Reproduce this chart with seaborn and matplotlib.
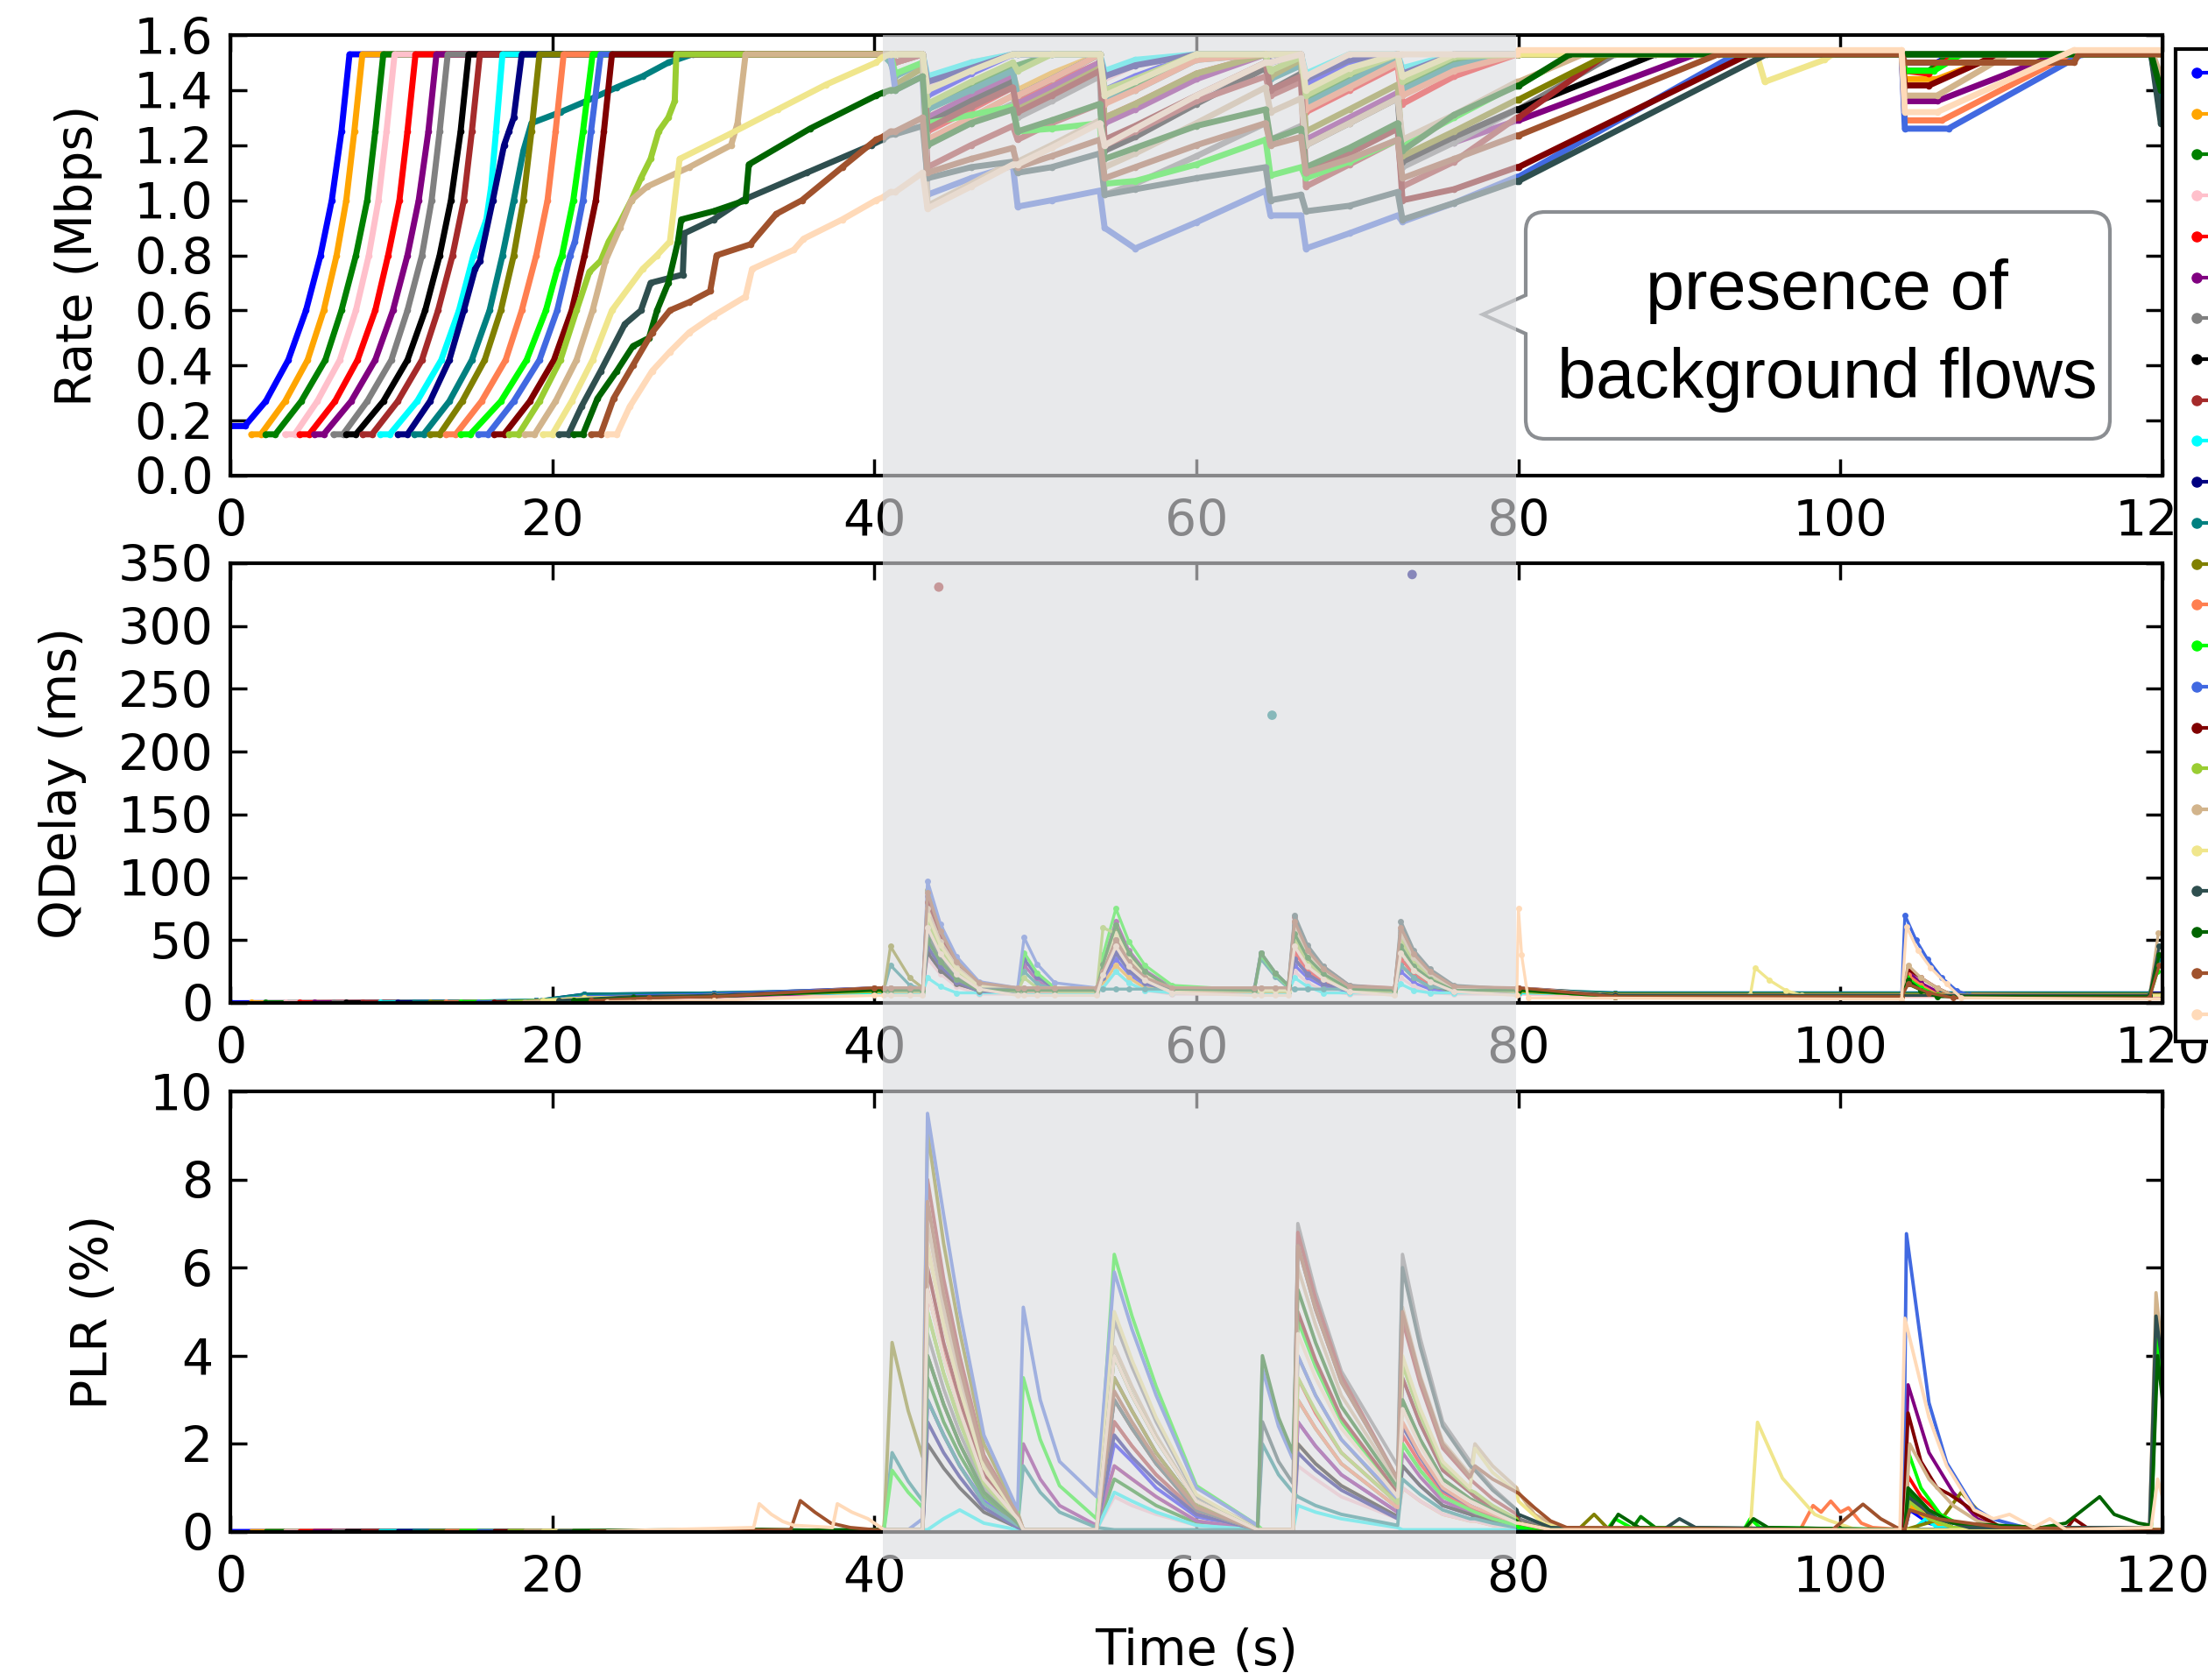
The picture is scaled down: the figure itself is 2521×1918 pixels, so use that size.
import matplotlib
matplotlib.use("Agg")
import matplotlib.pyplot as plt
import matplotlib.transforms as mtransforms
import pandas as pd
import seaborn as sns
from matplotlib.lines import Line2D
from matplotlib.patches import Rectangle, PathPatch
from matplotlib.path import Path
from matplotlib.ticker import FormatStrFormatter, MultipleLocator

# ---------------------------------------------------------------- flows
FLOW_NAMES = ["flow %d" % (i + 1) for i in range(24)]
FLOW_COLORS = ["blue", "orange", "green", "pink", "red", "purple", "gray",
               "black", "brown", "cyan", "navy", "teal", "olive", "coral",
               "lime", "royalblue", "maroon", "yellowgreen", "tan", "khaki",
               "darkslategray", "darkgreen", "sienna", "peachpuff"]

# period during which background traffic shares the bottleneck (s)
BG_START, BG_END = 40.5, 79.85

# ---------------------------------------------------------------- rate (Mbps)
RATE_HEAD = [
    [(0, 0.18), (0.9, 0.18), (2.2, 0.27), (3.6, 0.42), (4.7, 0.6), (5.6, 0.8), (6.3, 1.0), (6.9, 1.25), (7.4, 1.53), (40.5, 1.53)],
    [(1.3, 0.15), (1.9, 0.15), (3.4, 0.27), (4.8, 0.42), (5.8, 0.6), (6.6, 0.8), (7.2, 1.0), (7.7, 1.25), (8.2, 1.53), (40.5, 1.53)],
    [(2.2, 0.15), (2.8, 0.15), (4.4, 0.27), (5.9, 0.42), (6.9, 0.6), (7.8, 0.8), (8.5, 1.0), (9.0, 1.25), (9.5, 1.53), (40.5, 1.53)],
    [(3.4, 0.15), (4.0, 0.15), (5.4, 0.27), (6.8, 0.42), (7.8, 0.6), (8.6, 0.8), (9.2, 1.0), (9.7, 1.25), (10.2, 1.53), (40.5, 1.53)],
    [(4.3, 0.15), (4.9, 0.15), (6.5, 0.27), (7.9, 0.42), (9.0, 0.6), (9.8, 0.8), (10.5, 1.0), (11.0, 1.25), (11.5, 1.53), (40.5, 1.53)],
    [(5.2, 0.15), (5.8, 0.15), (7.5, 0.27), (9.0, 0.42), (10.1, 0.6), (11.0, 0.8), (11.7, 1.0), (12.3, 1.25), (12.8, 1.53), (40.5, 1.53)],
    [(6.4, 0.15), (7.0, 0.15), (8.5, 0.27), (10.0, 0.42), (11.0, 0.6), (11.9, 0.8), (12.5, 1.0), (13.0, 1.25), (13.5, 1.53), (40.5, 1.53)],
    [(7.2, 0.15), (7.8, 0.15), (9.5, 0.27), (11.0, 0.42), (12.1, 0.6), (13.0, 0.8), (13.7, 1.0), (14.3, 1.25), (14.8, 1.53), (40.5, 1.53)],
    [(8.2, 0.15), (8.8, 0.15), (10.4, 0.27), (11.9, 0.42), (12.9, 0.6), (13.8, 0.8), (14.5, 1.0), (15.0, 1.25), (15.5, 1.53), (40.5, 1.53)],
    [(9.3, 0.15), (9.9, 0.15), (11.6, 0.27), (13.1, 0.42), (14.2, 0.6), (15.1, 0.8), (15.6, 0.88), (15.9, 0.93), (16.2, 1.05), (16.5, 1.25), (16.9, 1.53), (40.5, 1.53)],
    [(10.4, 0.15), (11.0, 0.15), (12.4, 0.27), (13.6, 0.42), (14.5, 0.6), (15.2, 0.75), (15.5, 0.78), (16.3, 1.0), (17.0, 1.2), (17.3, 1.25), (17.6, 1.3), (18.1, 1.53), (40.5, 1.53)],
    [(11.4, 0.15), (12.0, 0.15), (13.6, 0.27), (15.0, 0.42), (16.1, 0.6), (16.9, 0.8), (17.6, 1.0), (18.2, 1.18), (18.7, 1.28), (20.5, 1.32), (22.1, 1.36), (24.0, 1.41), (25.6, 1.45), (27.2, 1.5), (28.7, 1.53), (40.5, 1.53)],
    [(12.4, 0.15), (13.0, 0.15), (14.4, 0.27), (15.8, 0.42), (16.8, 0.6), (17.6, 0.8), (18.2, 1.0), (18.7, 1.25), (19.2, 1.53), (40.5, 1.53)],
    [(13.4, 0.15), (14.0, 0.15), (15.6, 0.27), (17.1, 0.42), (18.1, 0.6), (19.0, 0.8), (19.7, 1.0), (20.2, 1.25), (20.7, 1.53), (40.5, 1.53)],
    [(14.3, 0.15), (14.9, 0.15), (16.8, 0.27), (18.4, 0.42), (19.6, 0.6), (20.3, 0.75), (20.6, 0.8), (21.3, 1.0), (21.9, 1.25), (22.5, 1.53), (40.5, 1.53)],
    [(15.4, 0.15), (16.0, 0.15), (17.6, 0.27), (19.2, 0.42), (20.3, 0.6), (21.1, 0.8), (21.4, 0.85), (21.9, 1.0), (22.4, 1.25), (23.0, 1.53), (40.5, 1.53)],
    [(16.4, 0.15), (17.0, 0.15), (18.6, 0.27), (20.1, 0.42), (21.2, 0.6), (22.0, 0.8), (22.7, 1.0), (23.2, 1.25), (23.7, 1.53), (40.5, 1.53)],
    [(17.3, 0.15), (17.9, 0.15), (19.2, 0.27), (20.5, 0.42), (21.5, 0.6), (22.3, 0.74), (23.0, 0.78), (23.5, 0.85), (24.2, 0.92), (24.9, 1.0), (25.5, 1.08), (26.1, 1.15), (26.6, 1.25), (27.2, 1.3), (27.6, 1.36), (27.7, 1.53), (40.5, 1.53)],
    [(18.3, 0.15), (18.9, 0.15), (20.2, 0.27), (21.5, 0.42), (22.5, 0.6), (23.3, 0.78), (24.2, 0.9), (24.9, 1.0), (25.9, 1.05), (28.5, 1.12), (31.1, 1.2), (31.5, 1.28), (32.0, 1.53), (40.5, 1.53)],
    [(19.4, 0.15), (20.0, 0.15), (21.2, 0.27), (22.5, 0.42), (23.7, 0.6), (25.6, 0.75), (26.5, 0.8), (27.3, 0.85), (27.9, 1.15), (31.0, 1.24), (34.0, 1.33), (37.0, 1.42), (40.1, 1.5), (40.5, 1.52)],
    [(20.4, 0.15), (21.0, 0.15), (21.8, 0.25), (23.0, 0.38), (24.5, 0.55), (25.5, 0.6), (26.1, 0.7), (28.1, 0.73), (28.2, 0.88), (30.0, 0.93), (31.8, 1.0), (35.8, 1.1), (39.8, 1.2), (40.5, 1.22)],
    [(21.3, 0.15), (21.9, 0.15), (22.8, 0.28), (24.0, 0.38), (25.0, 0.47), (26.0, 0.5), (26.5, 0.6), (27.2, 0.7), (27.8, 0.85), (28.0, 0.93), (30.0, 0.96), (32.0, 1.0), (32.2, 1.13), (36.0, 1.26), (40.1, 1.38), (40.5, 1.39)],
    [(22.4, 0.15), (23.0, 0.15), (23.8, 0.28), (25.0, 0.4), (26.2, 0.52), (27.3, 0.6), (28.5, 0.63), (29.8, 0.67), (30.2, 0.8), (32.3, 0.84), (33.9, 0.95), (35.5, 1.0), (38.0, 1.12), (40.1, 1.22), (40.5, 1.23)],
    [(23.4, 0.15), (24.0, 0.15), (24.8, 0.25), (26.2, 0.38), (27.3, 0.45), (28.5, 0.52), (30.0, 0.58), (32.0, 0.65), (32.4, 0.75), (35.0, 0.82), (35.6, 0.86), (38.0, 0.93), (40.1, 1.0), (40.5, 1.01)],
]

RATE_BAND_T = [41.0, 41.3, 43.0, 43.3, 46.0, 48.6, 48.9, 51.0, 54.0, 54.3, 56.2,
               60.0, 64.3, 64.6, 66.5, 66.8, 69.5, 72.5, 72.8, 76.0, 79.9]
RATE_BAND = [
    [1.53, 1.53, 1.53, 1.38, 1.46, 1.53, 1.53, 1.53, 1.53, 1.40, 1.45, 1.53, 1.53, 1.53, 1.53, 1.42, 1.50, 1.53, 1.44, 1.53, 1.53],
    [1.53, 1.50, 1.53, 1.30, 1.38, 1.46, 1.40, 1.46, 1.53, 1.36, 1.41, 1.52, 1.53, 1.45, 1.50, 1.38, 1.46, 1.53, 1.40, 1.49, 1.53],
    [1.53, 1.53, 1.53, 1.33, 1.41, 1.49, 1.49, 1.53, 1.53, 1.37, 1.42, 1.53, 1.53, 1.53, 1.53, 1.36, 1.44, 1.53, 1.42, 1.51, 1.53],
    [1.53, 1.53, 1.53, 1.42, 1.50, 1.53, 1.53, 1.53, 1.53, 1.44, 1.49, 1.53, 1.53, 1.53, 1.53, 1.45, 1.53, 1.53, 1.47, 1.53, 1.53],
    [1.53, 1.50, 1.53, 1.25, 1.33, 1.41, 1.36, 1.42, 1.50, 1.30, 1.35, 1.46, 1.53, 1.46, 1.52, 1.32, 1.40, 1.49, 1.35, 1.45, 1.53],
    [1.53, 1.53, 1.53, 1.30, 1.38, 1.45, 1.35, 1.41, 1.50, 1.28, 1.33, 1.44, 1.53, 1.45, 1.50, 1.22, 1.30, 1.39, 1.15, 1.21, 1.29],
    [1.53, 1.50, 1.53, 1.20, 1.28, 1.35, 1.30, 1.36, 1.45, 1.02, 1.06, 1.16, 1.28, 1.22, 1.27, 1.10, 1.18, 1.26, 1.12, 1.21, 1.33],
    [1.53, 1.53, 1.53, 1.28, 1.36, 1.43, 1.38, 1.44, 1.53, 1.18, 1.23, 1.35, 1.48, 1.40, 1.46, 1.20, 1.28, 1.37, 1.14, 1.23, 1.33],
    [1.53, 1.50, 1.53, 1.12, 1.20, 1.27, 1.22, 1.28, 1.35, 1.20, 1.25, 1.36, 1.45, 1.38, 1.43, 1.05, 1.13, 1.22, 1.05, 1.14, 1.30],
    [1.53, 1.53, 1.53, 1.45, 1.50, 1.53, 1.53, 1.53, 1.53, 1.47, 1.51, 1.53, 1.53, 1.53, 1.53, 1.46, 1.53, 1.53, 1.48, 1.53, 1.53],
    [1.53, 1.53, 1.53, 1.43, 1.48, 1.53, 1.53, 1.53, 1.53, 1.45, 1.49, 1.53, 1.53, 1.50, 1.53, 1.44, 1.51, 1.53, 1.46, 1.53, 1.53],
    [1.50, 1.45, 1.50, 1.33, 1.40, 1.47, 1.38, 1.44, 1.53, 1.36, 1.40, 1.51, 1.53, 1.44, 1.49, 1.35, 1.43, 1.52, 1.40, 1.49, 1.53],
    [1.53, 1.42, 1.48, 1.22, 1.30, 1.38, 1.33, 1.39, 1.48, 1.30, 1.35, 1.46, 1.53, 1.45, 1.51, 1.25, 1.33, 1.42, 1.16, 1.25, 1.365],
    [1.53, 1.53, 1.53, 1.22, 1.30, 1.38, 1.38, 1.44, 1.53, 1.35, 1.40, 1.51, 1.53, 1.53, 1.53, 1.33, 1.41, 1.50, 1.38, 1.47, 1.53],
    [1.53, 1.46, 1.50, 1.28, 1.31, 1.34, 1.25, 1.26, 1.28, 1.06, 1.07, 1.13, 1.22, 1.09, 1.12, 1.08, 1.14, 1.22, 1.20, 1.30, 1.42],
    [1.53, 1.40, 1.45, 1.02, 1.08, 1.126, 0.977, 1.0, 1.035, 0.90, 0.825, 0.92, 1.035, 0.945, 0.945, 0.825, 0.88, 0.945, 0.922, 0.99, 1.085],
    [1.53, 1.53, 1.53, 1.26, 1.34, 1.41, 1.32, 1.38, 1.47, 1.22, 1.27, 1.38, 1.50, 1.40, 1.45, 1.10, 1.17, 1.26, 1.00, 1.04, 1.12],
    [1.53, 1.53, 1.53, 1.35, 1.43, 1.50, 1.47, 1.53, 1.53, 1.40, 1.44, 1.53, 1.53, 1.47, 1.52, 1.38, 1.46, 1.53, 1.43, 1.52, 1.53],
    [1.53, 1.53, 1.53, 0.98, 1.06, 1.14, 1.14, 1.20, 1.29, 1.12, 1.17, 1.28, 1.41, 1.32, 1.37, 1.20, 1.28, 1.37, 1.22, 1.31, 1.43],
    [1.53, 1.53, 1.53, 1.40, 1.47, 1.53, 1.53, 1.53, 1.53, 1.38, 1.43, 1.53, 1.53, 1.53, 1.53, 1.40, 1.48, 1.53, 1.45, 1.53, 1.53],
    [1.24, 1.24, 1.27, 1.08, 1.12, 1.14, 1.10, 1.12, 1.17, 1.02, 1.04, 1.08, 1.12, 1.00, 1.02, 0.96, 0.98, 1.03, 0.93, 0.99, 1.07],
    [1.40, 1.40, 1.45, 1.20, 1.28, 1.33, 1.25, 1.29, 1.35, 1.15, 1.19, 1.27, 1.33, 1.22, 1.26, 1.12, 1.19, 1.28, 1.18, 1.31, 1.415],
    [1.25, 1.25, 1.30, 1.10, 1.15, 1.19, 1.12, 1.16, 1.22, 1.08, 1.12, 1.20, 1.28, 1.20, 1.23, 1.10, 1.15, 1.22, 1.08, 1.15, 1.235],
    [1.03, 1.03, 1.10, 0.97, 1.05, 1.13, 1.13, 1.19, 1.28, 1.20, 1.26, 1.38, 1.50, 1.50, 1.53, 1.45, 1.53, 1.53, 1.53, 1.53, 1.53],
]

RATE_TAIL = [
    [(80, 1.53), (103.8, 1.53), (104.0, 1.50), (106, 1.50), (107, 1.53), (120, 1.53)],
    [(80, 1.53), (103.8, 1.53), (104.0, 1.44), (106, 1.44), (110, 1.53), (120, 1.53)],
    [(80, 1.53), (103.8, 1.53), (104.0, 1.47), (105.5, 1.47), (106.8, 1.53), (120, 1.53)],
    [(80, 1.53), (120, 1.53)],
    [(80, 1.53), (103.8, 1.53), (104.0, 1.47), (105.5, 1.46), (107.2, 1.53), (120, 1.53)],
    [(80, 1.29), (91, 1.53), (103.8, 1.53), (104.0, 1.36), (106.0, 1.36), (113.5, 1.53), (120, 1.53)],
    [(80, 1.33), (86, 1.53), (120, 1.53)],
    [(80, 1.33), (88.5, 1.53), (120, 1.53)],
    [(80, 1.30), (85.5, 1.53), (120, 1.53)],
    [(80, 1.53), (120, 1.53)],
    [(80, 1.53), (119.3, 1.53), (119.9, 1.38)],
    [(80, 1.53), (119.3, 1.53), (119.9, 1.33)],
    [(80, 1.365), (85.6, 1.53), (120, 1.53)],
    [(80, 1.53), (103.8, 1.53), (104.0, 1.29), (106.3, 1.29), (114.3, 1.53), (120, 1.53)],
    [(80, 1.42), (83.5, 1.53), (103.8, 1.53), (104.0, 1.47), (105.8, 1.47), (107.5, 1.53), (120, 1.53)],
    [(80, 1.085), (93.5, 1.53), (103.8, 1.53), (104.0, 1.26), (106.7, 1.26), (115, 1.53), (120, 1.53)],
    [(80, 1.12), (94.3, 1.53), (103.8, 1.53), (104.0, 1.417), (105.5, 1.417), (109.8, 1.53), (120, 1.53)],
    [(80, 1.53), (120, 1.53)],
    [(80, 1.43), (84, 1.53), (103.8, 1.53), (104.0, 1.38), (106.0, 1.38), (110.4, 1.53), (119.4, 1.53), (119.9, 1.45)],
    [(80, 1.53), (94.8, 1.53), (95.3, 1.43), (99.0, 1.51), (99.5, 1.53), (120, 1.53)],
    [(80, 1.07), (95.4, 1.53), (119.3, 1.53), (119.9, 1.28)],
    [(80, 1.415), (83.2, 1.53), (119.3, 1.53), (119.9, 1.40)],
    [(80, 1.235), (92.4, 1.53), (103.8, 1.53), (104.0, 1.50), (114.5, 1.50), (114.8, 1.53), (120, 1.53)],
    [(80, 1.545), (103.8, 1.545), (104.0, 1.32), (106.0, 1.32), (114.5, 1.545), (120, 1.545)],
]

# ---------------------------------------------------------------- queuing delay (ms)
QDELAY_HEAD = [
    [(0, 1), (19, 1.5), (22, 4), (30, 6), (40, 9)],
    [(1.3, 1), (19, 1.5), (22, 4), (30, 6), (40, 10)],
    [(2.2, 1), (19, 1), (22, 3), (30, 5), (40, 8)],
    [(3.4, 1), (19, 1), (22, 3), (30, 4), (40, 7)],
    [(4.3, 1), (19, 1.5), (22, 4), (30, 6), (40, 10)],
    [(5.2, 1), (19, 1.5), (22, 4), (30, 5), (40, 9)],
    [(6.4, 1), (19, 1.5), (22, 5), (30, 6), (40, 11)],
    [(7.2, 1), (19, 1.5), (22, 4), (30, 6), (40, 10)],
    [(8.2, 1), (19, 1.5), (22, 5), (30, 7), (40, 12)],
    [(9.3, 1), (19, 2), (22, 6), (30, 7), (40, 8)],
    [(10.4, 1), (19, 2), (22, 7), (30, 8), (40, 9)],
    [(11.4, 1), (19, 2), (22, 7), (30, 8), (40, 11)],
    [(12.4, 1), (19, 1.5), (22, 5), (30, 6), (40, 10)],
    [(13.4, 1), (19, 1.5), (22, 4), (30, 6), (40, 9)],
    [(14.3, 1), (19, 2), (22, 5), (30, 6), (40, 10)],
    [(15.4, 1), (19, 2), (22, 5), (30, 7), (40, 12)],
    [(16.4, 1), (19, 1.5), (22, 4), (30, 6), (40, 11)],
    [(17.3, 1), (22, 4), (30, 6), (40, 9)],
    [(18.3, 1), (22, 4), (30, 5), (40, 12)],
    [(19.4, 2), (22, 4), (30, 6), (40, 10)],
    [(20.4, 2), (25, 5), (30, 6), (40, 11)],
    [(21.3, 2), (25, 4), (30, 5), (40, 10)],
    [(22.4, 2), (26, 4), (30, 5), (40, 12)],
    [(23.4, 1), (30, 2), (40, 6)],
]

QDELAY_BAND_T = [40.6, 41.0, 42.2, 43.0, 43.3, 44.1, 45.1, 46.5, 48.9, 49.3, 50.1,
                 51.2, 53.8, 54.2, 55.0, 55.8, 56.8, 58.5, 63.6, 64.0, 64.9, 65.7,
                 66.1, 66.9, 67.9, 69.5, 72.3, 72.7, 73.5, 74.5, 76.0, 79.9]
QDELAY_BAND = [
    [9, 9, 9, 9, 40, 26, 15, 9, 9, 9, 9, 9, 9, 18, 35, 23, 14, 9, 9, 9, 9, 9, 30, 20, 13, 9, 9, 25, 16, 11, 9, 9],
    [10, 10, 10, 10, 50, 33, 19, 10, 10, 10, 10, 10, 10, 15, 30, 20, 12, 10, 10, 10, 10, 10, 35, 23, 15, 10, 10, 30, 20, 13, 10, 10],
    [8, 8, 8, 8, 45, 29, 17, 8, 8, 8, 8, 8, 8, 20, 40, 26, 16, 8, 8, 8, 8, 8, 45, 29, 19, 9, 8, 35, 23, 15, 8, 8],
    [7, 7, 7, 7, 35, 23, 13, 7, 7, 7, 7, 7, 7, 12, 25, 16, 10, 7, 7, 7, 7, 7, 25, 16, 10, 7, 7, 20, 13, 8, 7, 7],
    [10, 10, 10, 10, 60, 39, 23, 11, 10, 10, 10, 10, 10, 22, 45, 29, 18, 10, 10, 10, 10, 10, 40, 26, 17, 10, 10, 35, 23, 15, 10, 10],
    [9, 9, 9, 9, 55, 36, 21, 10, 9, 30, 18, 9, 9, 32, 65, 42, 26, 12, 9, 9, 9, 9, 45, 29, 19, 9, 9, 40, 26, 17, 9, 9],
    [11, 11, 11, 11, 70, 45, 27, 13, 11, 11, 11, 11, 11, 30, 60, 39, 24, 11, 11, 11, 11, 11, 62, 40, 26, 12, 11, 58, 38, 24, 13, 11],
    [10, 10, 10, 10, 40, 26, 15, 10, 10, 10, 10, 10, 10, 25, 50, 32, 20, 10, 10, 10, 10, 10, 35, 23, 15, 10, 10, 30, 20, 13, 10, 10],
    [12, 12, 12, 12, 85, 55, 32, 15, 12, 12, 12, 12, 12, 22, 45, 29, 18, 12, 12, 12, 12, 12, 68, 44, 29, 14, 12, 55, 36, 23, 12, 12],
    [8, 8, 8, 8, 20, 13, 8, 8, 8, 8, 8, 8, 8, 12, 25, 16, 10, 8, 8, 8, 8, 8, 20, 13, 8, 8, 8, 15, 10, 8, 8, 8],
    [9, 9, 9, 9, 45, 29, 17, 9, 9, 35, 21, 11, 9, 20, 40, 26, 16, 9, 9, 9, 9, 9, 35, 23, 15, 9, 9, 40, 26, 17, 9, 9],
    [11, 30, 14, 11, 50, 33, 19, 11, 11, 25, 15, 11, 11, 11, 11, 11, 11, 11, 11, 35, 21, 12, 11, 11, 11, 11, 11, 30, 20, 13, 11, 11],
    [10, 45, 20, 12, 90, 59, 34, 16, 10, 10, 10, 10, 10, 30, 60, 39, 24, 11, 10, 10, 10, 10, 50, 33, 21, 10, 10, 45, 29, 19, 10, 10],
    [9, 9, 9, 9, 75, 49, 29, 14, 9, 9, 9, 9, 9, 25, 50, 33, 20, 9, 9, 9, 9, 9, 50, 33, 21, 10, 9, 45, 29, 19, 10, 9],
    [10, 10, 10, 10, 60, 39, 23, 11, 10, 40, 24, 12, 10, 38, 75, 49, 30, 14, 10, 38, 23, 13, 60, 39, 25, 12, 10, 40, 26, 17, 10, 10],
    [12, 12, 12, 12, 97, 63, 37, 17, 12, 52, 31, 16, 12, 28, 55, 36, 22, 12, 12, 40, 24, 14, 55, 36, 23, 12, 12, 50, 33, 21, 12, 12],
    [11, 11, 11, 11, 80, 52, 30, 14, 11, 11, 11, 11, 11, 25, 50, 33, 20, 11, 11, 11, 11, 11, 65, 42, 27, 13, 11, 55, 36, 23, 12, 11],
    [9, 9, 9, 9, 65, 42, 25, 12, 9, 20, 12, 9, 9, 60, 55, 36, 22, 11, 9, 9, 9, 9, 50, 33, 21, 10, 9, 50, 33, 21, 11, 9],
    [12, 12, 12, 12, 75, 49, 29, 14, 12, 12, 12, 12, 12, 28, 55, 36, 22, 12, 12, 12, 12, 12, 60, 39, 25, 12, 12, 55, 36, 23, 12, 12],
    [10, 10, 10, 10, 70, 46, 27, 13, 10, 10, 10, 10, 10, 28, 55, 36, 22, 10, 10, 10, 10, 10, 55, 36, 23, 11, 10, 45, 29, 19, 10, 10],
    [11, 11, 11, 11, 55, 36, 21, 11, 11, 11, 11, 11, 11, 25, 50, 33, 20, 11, 11, 40, 24, 14, 70, 46, 29, 14, 11, 65, 42, 27, 14, 11],
    [10, 10, 10, 10, 50, 33, 19, 10, 10, 10, 10, 10, 10, 31, 62, 40, 25, 11, 10, 40, 24, 14, 55, 36, 23, 11, 10, 45, 29, 19, 10, 10],
    [12, 12, 12, 12, 88, 57, 33, 16, 12, 12, 12, 12, 12, 25, 50, 33, 20, 12, 12, 12, 12, 12, 65, 42, 27, 13, 12, 60, 39, 25, 13, 12],
    [6, 6, 6, 6, 60, 39, 23, 11, 6, 6, 6, 6, 6, 22, 45, 29, 18, 8, 6, 6, 6, 6, 45, 29, 19, 9, 6, 40, 26, 17, 9, 6],
]

QDELAY_TAIL = [
    [(80, 9), (86, 6), (120, 6)],
    [(80, 10), (86, 6), (120, 6)],
    [(80, 8), (86, 6), (103.8, 6), (104.2, 15), (105.2, 9), (106, 6), (120, 6)],
    [(80, 7), (86, 5), (120, 5)],
    [(80, 10), (86, 6), (103.8, 6), (104.2, 18), (105, 12), (106, 6), (120, 6)],
    [(80, 9), (86, 7), (103.8, 7), (104.2, 25), (105, 16), (106, 9), (107, 7), (120, 7)],
    [(80, 11), (86, 7), (120, 7)],
    [(80, 10), (86, 7), (120, 7)],
    [(80, 12), (86, 7), (120, 7)],
    [(80, 8), (86, 7), (120, 7)],
    [(80, 9), (86, 8), (120, 8)],
    [(80, 11), (86, 8), (119.2, 8), (119.8, 35)],
    [(80, 10), (86, 7), (120, 7)],
    [(80, 9), (86, 6), (103.8, 6), (104.2, 22), (105, 14), (106, 7), (120, 6)],
    [(80, 10), (86, 5), (103.8, 5), (104.1, 20), (105, 12), (106, 6), (119.2, 5), (119.7, 25)],
    [(80, 12), (86, 6), (103.8, 6), (104.0, 70), (104.7, 50), (105.4, 35), (106.3, 20), (107.2, 10), (108, 6), (120, 6)],
    [(80, 11), (86, 6), (103.8, 6), (104.2, 27), (105, 20), (106, 12), (107, 6), (120, 6)],
    [(80, 9), (86, 6), (120, 6)],
    [(80, 12), (86, 6), (103.8, 6), (104.2, 30), (105, 20), (106, 12), (107, 6), (119.2, 6), (119.75, 56)],
    [(80, 10), (85, 6), (94.4, 6), (94.7, 28), (95.6, 18), (96.6, 10), (97.6, 6), (120, 6)],
    [(80, 11), (86, 6), (119.2, 6), (119.8, 45)],
    [(80, 10), (86, 5), (103.8, 5), (104.2, 18), (105, 10), (106, 5), (119.2, 5), (119.8, 38)],
    [(80, 12), (86, 5), (103.8, 5), (104.2, 15), (105.5, 8), (107, 4), (119.2, 4), (119.8, 30)],
    [(80.0, 75), (80.2, 38), (80.6, 4), (103.8, 3), (104.1, 61), (104.8, 42), (105.6, 28), (106.6, 15), (107.5, 4), (120, 3)],
]

# isolated delay samples: (time, delay, flow index)
QDELAY_STRAY_T = [44.0, 64.7, 73.4]
QDELAY_STRAY_V = [331, 229, 341]
QDELAY_STRAY_FLOW = [8, 11, 10]

# ---------------------------------------------------------------- packet loss ratio (%)
PLR_HEAD = [
    [(0, 0.03), (40, 0.04)],
    [(1.3, 0.03), (40, 0.04)],
    [(2.2, 0.03), (40, 0.04)],
    [(3.4, 0.03), (40, 0.04)],
    [(4.3, 0.03), (40, 0.04)],
    [(5.2, 0.03), (40, 0.04)],
    [(6.4, 0.03), (40, 0.04)],
    [(7.2, 0.03), (40, 0.04)],
    [(8.2, 0.03), (40, 0.04)],
    [(9.3, 0.03), (40, 0.04)],
    [(10.4, 0.03), (40, 0.04)],
    [(11.4, 0.03), (40, 0.04)],
    [(12.4, 0.03), (40, 0.04)],
    [(13.4, 0.03), (40, 0.04)],
    [(14.3, 0.03), (40, 0.04)],
    [(15.4, 0.03), (40, 0.04)],
    [(16.4, 0.03), (40, 0.04)],
    [(17.3, 0.03), (40, 0.04)],
    [(18.3, 0.03), (40, 0.04)],
    [(19.4, 0.03), (40, 0.04)],
    [(20.4, 0.03), (40, 0.04)],
    [(21.3, 0.03), (33.0, 0.06), (36.0, 0.04), (40.0, 0.06)],
    [(22.4, 0.02), (34.8, 0.05), (35.4, 0.71), (36.3, 0.45), (37.3, 0.2), (38.5, 0.1), (40.0, 0.05)],
    [(23.4, 0.02), (32.5, 0.1), (32.85, 0.64), (33.6, 0.4), (34.3, 0.24), (35.0, 0.15), (37.4, 0.1), (37.7, 0.64), (38.6, 0.45), (39.6, 0.3), (40.0, 0.2)],
]

PLR_BAND_T = [40.6, 41.1, 42.1, 43.0, 43.3, 44.3, 45.3, 46.8, 48.9, 49.25, 50.3,
              51.5, 53.8, 54.9, 56.0, 57.5, 60.0, 63.8, 64.1, 65.1, 66.0, 66.3,
              67.4, 69.0, 72.5, 72.8, 73.9, 75.3, 77.0, 77.3, 78.4, 79.9]
PLR_BAND = [
    [.05, .05, .05, .05, 3.0, 2.2, 1.5, 0.7, 0.15, .05, .05, .05, .05, 2.0, 1.6, 1.0, 0.35, .05, .05, .05, .05, 2.5, 1.95, 1.3, 0.45, 1.5, 1.05, 0.6, 0.4, 0.35, 0.25, 0.1],
    [.05, .05, .05, .05, 4.0, 2.9, 2.0, 0.9, 0.2, .05, .05, .05, .05, 1.5, 1.2, 0.8, 0.25, .05, .05, .05, .05, 2.0, 1.55, 1.05, 0.35, 1.0, 0.7, 0.4, 0.25, 0.25, 0.15, 0.1],
    [.05, .05, .05, .05, 3.5, 2.5, 1.75, 0.8, 0.2, .05, .05, .05, .05, 1.2, 0.95, 0.6, 0.2, .05, .05, .05, .05, 3.0, 2.35, 1.55, 0.55, 2.0, 1.4, 0.8, 0.5, 0.45, 0.3, 0.15],
    [.05, .05, .05, .05, 2.5, 1.8, 1.25, 0.55, 0.1, .05, .05, .05, .05, 0.8, 0.6, 0.4, 0.15, .05, .05, .05, .05, 1.5, 1.2, 0.8, 0.3, 1.0, 0.7, 0.4, 0.25, 0.25, 0.15, 0.1],
    [.05, .05, .05, .05, 5.5, 4.0, 2.75, 1.2, 0.3, .05, .05, .05, .05, 2.5, 1.95, 1.3, 0.45, .05, .05, .05, .05, 3.5, 2.7, 1.8, 0.65, 2.2, 1.55, 0.9, 0.55, 0.5, 0.35, 0.2],
    [.05, .05, .05, .05, 3.0, 2.2, 1.5, 0.65, 0.15, 2.0, 1.2, 0.6, 0.15, 1.5, 1.2, 0.8, 0.25, .05, .05, .05, .05, 2.5, 1.95, 1.3, 0.45, 1.8, 1.25, 0.7, 0.45, 0.4, 0.3, 0.15],
    [.05, .05, .05, .05, 4.5, 3.25, 2.25, 1.0, 0.25, .05, .05, .05, .05, 4.8, 3.75, 2.5, 0.8, 0.1, .05, .05, .05, 7.0, 5.45, 3.65, 1.5, 6.3, 4.4, 2.5, 1.6, 1.45, 1.0, 0.5],
    [.05, .05, .05, .05, 2.0, 1.45, 1.0, 0.45, 0.1, .05, .05, .05, .05, 3.5, 2.75, 1.8, 0.6, 0.05, .05, .05, .05, 2.0, 1.55, 1.05, 0.35, 1.5, 1.05, 0.6, 0.4, 0.35, 0.25, 0.1],
    [.05, .05, .05, .05, 8.0, 5.75, 4.0, 1.75, 0.4, .05, .05, .05, .05, 2.5, 1.95, 1.3, 0.45, .05, .05, .05, .05, 6.8, 5.3, 3.55, 1.2, 4.8, 3.35, 1.9, 1.2, 1.1, 0.75, 0.4],
    [.05, .05, .05, .05, 0.05, 0.3, 0.5, 0.2, 0.05, .05, .05, .05, .05, 0.9, 0.7, 0.45, 0.15, .05, .05, .05, .05, 0.6, 0.45, 0.3, 0.1, 0.05, 0.05, 0.05, 0.05, 0.05, 0.05, 0.05],
    [.05, .05, .05, .05, 2.5, 1.8, 1.25, 0.55, 0.1, .05, .05, .05, .05, 2.2, 1.7, 1.15, 0.4, .05, .05, .05, .05, 1.8, 1.4, 0.95, 0.3, 2.4, 1.7, 0.95, 0.6, 0.55, 0.4, 0.2],
    [.05, 1.8, 1.15, 0.7, 3.0, 2.2, 1.5, 0.65, 0.15, 1.5, 0.9, 0.45, 0.1, .05, .05, .05, .05, .05, 2.0, 1.3, 0.9, 0.8, 0.6, 0.4, 0.15, 1.2, 0.85, 0.5, 0.3, 0.3, 0.2, 0.1],
    [.05, 4.3, 2.75, 1.7, 9.1, 6.55, 4.55, 2.0, 0.45, .05, .05, .05, .05, 3.5, 2.75, 1.8, 0.6, .05, .05, .05, .05, 4.0, 3.1, 2.1, 0.7, 3.0, 2.1, 1.2, 0.75, 0.7, 0.5, 0.25],
    [.05, .05, .05, .05, 6.5, 4.7, 3.25, 1.45, 0.35, .05, .05, .05, .05, 3.0, 2.35, 1.55, 0.5, .05, .05, .05, .05, 3.0, 2.35, 1.55, 0.55, 2.5, 1.75, 1.0, 0.6, 0.55, 0.4, 0.2],
    [.05, 1.4, 0.9, 0.55, 5.0, 3.6, 2.5, 1.1, 0.25, 3.5, 2.1, 1.05, 0.3, 6.3, 4.9, 3.3, 1.05, 0.15, .05, .05, .05, 4.8, 3.75, 2.5, 0.85, 2.0, 1.4, 0.8, 0.5, 0.45, 0.3, 0.15],
    [.05, .05, .05, 0.3, 9.5, 7.2, 5.0, 2.2, 0.5, 5.1, 3.0, 1.6, 0.8, 5.9, 4.6, 3.1, 1.0, 0.15, 3.7, 2.4, 1.65, 4.0, 3.1, 2.1, 0.75, 3.5, 2.45, 1.4, 0.9, 0.8, 0.55, 0.3],
    [.05, .05, .05, .05, 6.0, 4.3, 3.0, 1.3, 0.3, .05, .05, .05, .05, 3.0, 2.35, 1.55, 0.5, .05, .05, .05, .05, 5.0, 3.9, 2.6, 0.9, 3.5, 2.45, 1.4, 0.9, 0.8, 0.55, 0.3],
    [.05, .05, .05, .05, 5.0, 3.6, 2.5, 1.1, 0.25, .05, .05, .05, .05, 4.0, 3.1, 2.1, 0.7, .05, .05, .05, .05, 3.5, 2.75, 1.8, 0.65, 3.8, 2.65, 1.5, 0.95, 0.9, 0.6, 0.3],
    [.05, .05, .05, .05, 7.0, 5.05, 3.5, 1.55, 0.35, .05, .05, .05, .05, 4.2, 3.3, 2.2, 0.7, .05, .05, .05, .05, 6.0, 4.7, 3.1, 1.1, 5.1, 3.55, 2.05, 1.3, 2.0, 1.5, 1.0],
    [.05, .05, .05, .05, 6.5, 4.7, 3.25, 1.45, 0.35, .05, .05, .05, .05, 5.0, 3.9, 2.6, 0.85, .05, .05, .05, .05, 5.5, 4.3, 2.85, 1.0, 4.0, 2.8, 1.6, 1.0, 1.9, 1.35, 0.9],
    [.05, .05, .05, .05, 4.0, 2.9, 2.0, 0.9, 0.2, .05, .05, .05, .05, 3.0, 2.35, 1.55, 0.5, .05, 2.5, 1.6, 1.1, 6.5, 5.05, 3.4, 1.2, 6.0, 4.2, 2.4, 1.5, 1.4, 0.95, 0.5],
    [.05, .05, .05, .05, 4.0, 2.9, 2.0, 0.9, 0.2, .05, .05, .05, .05, 4.0, 3.1, 2.1, 0.7, .05, 4.0, 2.6, 1.8, 5.5, 4.3, 2.85, 1.0, 3.0, 2.1, 1.2, 0.75, 0.7, 0.5, 0.25],
    [.05, .05, .05, .05, 7.5, 5.4, 3.75, 1.65, 0.4, .05, .05, .05, .05, 3.2, 2.5, 1.65, 0.55, .05, .05, .05, .05, 6.5, 5.05, 3.4, 1.2, 5.0, 3.5, 2.0, 1.25, 1.5, 1.2, 0.9],
    [.05, .05, .05, .05, 5.5, 3.95, 2.75, 1.2, 0.3, .05, .05, .05, .05, 4.0, 3.1, 2.1, 0.7, .05, .05, .05, .05, 4.5, 3.5, 2.35, 0.8, 2.8, 1.95, 1.1, 0.7, 0.65, 0.45, 0.2],
]

PLR_TAIL = [
    [(80, 0.05), (104.0, 0.05), (104.3, 0.5), (105.5, 0.2), (107, 0.05), (120, 0.05)],
    [(80, 0.05), (104.0, 0.05), (104.3, 0.6), (105.5, 0.25), (107, 0.05), (120, 0.05)],
    [(80, 0.05), (87.0, 0.05), (87.6, 0.35), (88.5, 0.1), (104.0, 0.05), (104.2, 0.9), (105.5, 0.4), (107, 0.1), (120, 0.05)],
    [(80, 0.05), (120, 0.05)],
    [(80, 0.05), (104.0, 0.05), (104.2, 1.27), (105, 0.8), (106.5, 0.3), (108, 0.1), (120, 0.05)],
    [(80, 0.1), (103.9, 0.05), (104.2, 3.34), (105.5, 1.8), (107, 0.9), (108.5, 0.3), (110, 0.05), (120, 0.05)],
    [(80, 0.3), (82, 0.05), (120, 0.05)],
    [(80, 0.05), (120, 0.05)],
    [(80, 0.2), (82, 0.05), (120, 0.05)],
    [(80, 0.05), (104.5, 0.05), (105.3, 0.3), (106.0, 0.1), (120, 0.05)],
    [(80, 0.1), (82, 0.05), (120, 0.05)],
    [(80, 0.05), (120, 0.05)],
    [(80, 0.1), (83.7, 0.05), (84.7, 0.4), (85.5, 0.1), (104.0, 0.05), (106.3, 0.3), (107.5, 0.9), (109, 0.3), (110, 0.1), (120, 0.05)],
    [(80, 0.1), (97.5, 0.05), (98.3, 0.6), (98.8, 0.45), (99.4, 0.7), (100.0, 0.45), (100.5, 0.55), (101.3, 0.2), (102, 0.1), (104.0, 0.05), (104.2, 0.8), (105.5, 0.3), (107, 0.1), (120, 0.05)],
    [(80, 0.1), (85.5, 0.05), (86.0, 0.3), (87.0, 0.1), (94, 0.05), (94.4, 0.3), (95, 0.1), (104.0, 0.05), (104.2, 1.83), (105, 1.0), (106.2, 0.4), (107.5, 0.15), (110, 0.05), (119.3, 0.05), (119.7, 4.6), (120, 3.5)],
    [(80, 0.2), (82, 0.05), (103.9, 0.05), (104.1, 6.77), (105.5, 2.93), (106.6, 1.57), (108.3, 0.55), (109.4, 0.3), (112, 0.05), (120, 0.05)],
    [(80, 0.2), (82, 0.05), (103.9, 0.05), (104.2, 2.7), (105.0, 1.6), (106.0, 1.0), (106.8, 0.85), (107.8, 0.6), (108.5, 0.4), (110, 0.1), (114, 0.05), (114.5, 0.3), (115.5, 0.05), (120, 0.05)],
    [(80, 0.2), (82, 0.05), (104, 0.05), (104.3, 0.7), (105.5, 0.3), (107, 0.1), (120, 0.05)],
    [(80, 0.9), (81, 0.4), (82.5, 0.1), (104, 0.05), (104.3, 2.0), (105.5, 1.2), (107, 0.6), (108.5, 0.25), (110, 0.1), (119.2, 0.1), (119.6, 5.43), (120, 4.0)],
    [(80, 0.7), (81.5, 0.2), (83, 0.05), (94.4, 0.05), (94.85, 2.49), (96.4, 1.22), (98.4, 0.4), (99.3, 0.26), (101, 0.05), (120, 0.05)],
    [(80, 0.4), (82, 0.1), (89.0, 0.05), (90, 0.3), (91, 0.1), (104, 0.05), (104.2, 0.8), (106, 0.3), (108, 0.1), (119.2, 0.1), (119.6, 4.9), (120, 3.8)],
    [(80, 0.2), (82, 0.05), (85.6, 0.05), (86.2, 0.4), (87.5, 0.1), (94.0, 0.05), (94.6, 0.3), (95.5, 0.1), (104.0, 0.05), (104.2, 1.0), (105.5, 0.5), (107, 0.2), (112.5, 0.1), (114, 0.2), (116.1, 0.8), (117, 0.4), (118.5, 0.2), (119.3, 0.15), (119.7, 4.0), (120, 3.0)],
    [(80, 0.88), (81.0, 0.55), (82.0, 0.25), (83, 0.1), (99.5, 0.05), (101.4, 0.63), (102.5, 0.3), (103.5, 0.1), (104, 0.05), (104.3, 0.5), (106, 0.3), (108, 0.2), (110, 0.1), (120, 0.05)],
    [(80, 0.2), (82, 0.05), (103.7, 0.05), (104.0, 4.85), (105.5, 2.6), (106.6, 1.5), (108.3, 0.5), (109.5, 0.3), (110.5, 0.4), (112, 0.1), (113, 0.3), (114, 0.05), (119.3, 0.1), (119.7, 1.2), (120, 0.8)],
]


def long_form(head, band_t, band, tail):
    """Stitch each flow's pieces together into one tidy table."""
    rows = []
    for name, h, b, tl in zip(FLOW_NAMES, head, band, tail):
        for t, v in list(h) + list(zip(band_t, b)) + list(tl):
            rows.append((name, t, v))
    return pd.DataFrame(rows, columns=["flow", "time", "value"])


rate_df = long_form(RATE_HEAD, RATE_BAND_T, RATE_BAND, RATE_TAIL)
qdelay_df = long_form(QDELAY_HEAD, QDELAY_BAND_T, QDELAY_BAND, QDELAY_TAIL)
plr_df = long_form(PLR_HEAD, PLR_BAND_T, PLR_BAND, PLR_TAIL)
stray_df = pd.DataFrame({"time": QDELAY_STRAY_T, "value": QDELAY_STRAY_V,
                         "flow": [FLOW_NAMES[i] for i in QDELAY_STRAY_FLOW]})

# ---------------------------------------------------------------- style
sns.set_theme(style="ticks")
plt.rcParams.update({
    "font.family": ["DejaVu Sans"],
    "axes.facecolor": "white",
    "figure.facecolor": "white",
    "axes.edgecolor": "black",
    "axes.linewidth": 3,
    "text.color": "black",
    "axes.labelcolor": "black",
    "xtick.color": "black",
    "ytick.color": "black",
})

W, H = 2521, 1918
fig = plt.figure(figsize=(W / 100, H / 100), dpi=100)
LEFT, WIDTH = 263 / W, 2206 / W
ax_rate = fig.add_axes([LEFT, 1 - 543 / H, WIDTH, 503 / H])
ax_qd = fig.add_axes([LEFT, 1 - 1145 / H, WIDTH, 502 / H])
ax_plr = fig.add_axes([LEFT, 1 - 1749 / H, WIDTH, 503 / H])

palette = dict(zip(FLOW_NAMES, FLOW_COLORS))
common = dict(x="time", y="value", hue="flow", hue_order=FLOW_NAMES,
              palette=palette, estimator=None, sort=False, legend=False)

sns.lineplot(data=rate_df, ax=ax_rate, linewidth=5, marker=".",
             markersize=11, markeredgewidth=0, **common)
sns.lineplot(data=qdelay_df, ax=ax_qd, linewidth=2.4, marker=".",
             markersize=10, markeredgewidth=0, **common)
sns.scatterplot(data=stray_df, x="time", y="value", hue="flow",
                palette=palette, s=60, edgecolor="none", legend=False,
                ax=ax_qd)
sns.lineplot(data=plr_df, ax=ax_plr, linewidth=2.8, **common)

FS = 41


def style_axis(ax, ymax, ystep, fmt, ylabel):
    ax.set_xlim(0, 120)
    ax.set_ylim(0, ymax)
    ax.xaxis.set_major_locator(MultipleLocator(20))
    ax.yaxis.set_major_locator(MultipleLocator(ystep))
    ax.yaxis.set_major_formatter(FormatStrFormatter(fmt))
    ax.tick_params(direction="in", length=14, width=2.5, top=True,
                   right=True, labelsize=FS, color="black",
                   labelcolor="black")
    ax.tick_params(axis="x", pad=19)
    ax.tick_params(axis="y", pad=14)
    for sp in ax.spines.values():
        sp.set_visible(True)
        sp.set_linewidth(3)
        sp.set_color("black")
    ax.set_xlabel("")
    ax.set_ylabel(ylabel, fontsize=FS, labelpad=26, color="black")


style_axis(ax_rate, 1.6, 0.2, "%.1f", "Rate (Mbps)")
style_axis(ax_qd, 350, 50, "%d", "QDelay (ms)")
style_axis(ax_plr, 10, 2, "%d", "PLR (%)")
ax_plr.set_xlabel("Time (s)", fontsize=FS, labelpad=20, color="black")

# ---------------------------------------------------------------- legend
# one key per flow; the key column runs past the right edge of the figure
handles = [Line2D([], [], color=c, lw=3, marker=".", markersize=16)
           for c in FLOW_COLORS]
leg = fig.legend(handles, [""] * len(handles), loc="upper left",
                 bbox_to_anchor=(2484 / W, 1 - 56 / H),
                 bbox_transform=fig.transFigure, borderaxespad=0,
                 fontsize=22, numpoints=2, labelspacing=0.58, borderpad=0.48,
                 handlelength=4.0, handletextpad=0.8, fancybox=False,
                 framealpha=1, edgecolor="black")
leg.get_frame().set_linewidth(3)

# ---------------------------------------------------------------- callout


def px(x, y):
    return (x / W, 1 - y / H)


L, R, T, B, r = 1742, 2409, 242, 501, 22
tip_x, tip_y, nb1, nb2 = 1693, 359, 337, 381
verts = [px(L + r, T), px(R - r, T), px(R, T), px(R, T + r), px(R, B - r),
         px(R, B), px(R - r, B), px(L + r, B), px(L, B), px(L, B - r),
         px(L, nb2), px(tip_x, tip_y), px(L, nb1), px(L, T + r), px(L, T),
         px(L + r, T), px(L + r, T)]
codes = [Path.MOVETO, Path.LINETO, Path.CURVE3, Path.CURVE3, Path.LINETO,
         Path.CURVE3, Path.CURVE3, Path.LINETO, Path.CURVE3, Path.CURVE3,
         Path.LINETO, Path.LINETO, Path.LINETO, Path.LINETO, Path.CURVE3,
         Path.CURVE3, Path.CLOSEPOLY]
callout = PathPatch(Path(verts, codes), facecolor="white",
                    edgecolor="#8b8e92", linewidth=3,
                    transform=fig.transFigure, zorder=4)
fig.add_artist(callout)
fig.text(2086 / W, 1 - 454 / H, "presence of\nbackground flows",
         ha="center", va="baseline", fontsize=57, color="black",
         family=["Liberation Sans", "DejaVu Sans"], linespacing=1.44,
         zorder=4.5)

# ---------------------------------------------------------------- shaded period
band_tr = mtransforms.blended_transform_factory(ax_rate.transData,
                                                fig.transFigure)
shade = Rectangle((BG_START, 1 - 1780 / H), BG_END - BG_START,
                  (1780 - 40) / H, transform=band_tr,
                  facecolor=(219 / 255, 220 / 255, 223 / 255), alpha=0.62,
                  edgecolor="none", zorder=10)
fig.add_artist(shade)

fig.savefig("out.png", dpi=100)
